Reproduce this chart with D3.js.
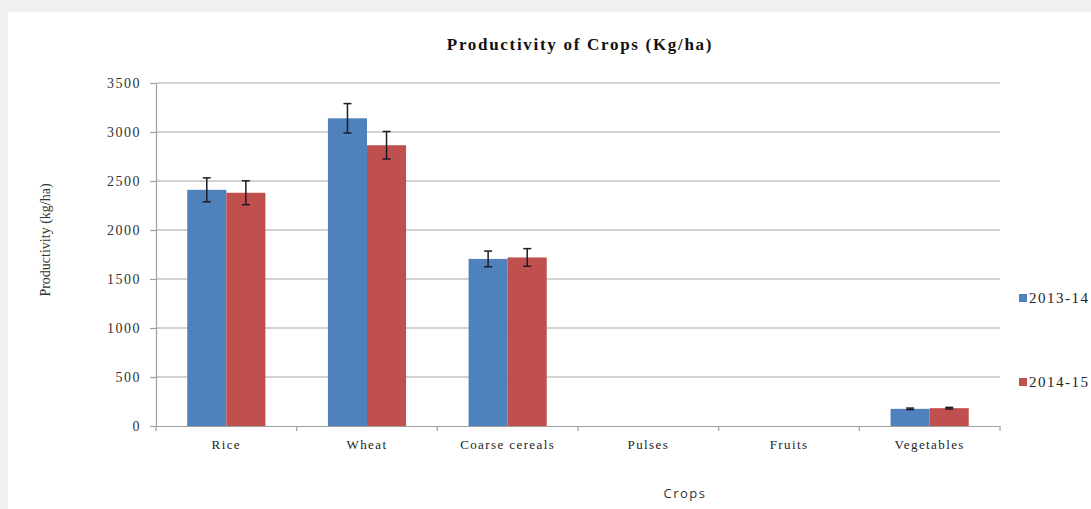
<!DOCTYPE html>
<html><head><meta charset="utf-8">
<script src="https://cdn.jsdelivr.net/npm/d3@7"></script>
<style>body{margin:0;background:#f0f1f3;}svg{display:block;}</style>
</head><body><svg id="c" width="1091" height="509"></svg>
<script>
const categories = ["Rice","Wheat","Coarse cereals","Pulses","Fruits","Vegetables"];
const series = ["2013-14","2014-15"];
const values2013 = [2410, 3140, 1705, 0, 0, 175];
const values2014 = [2380, 2865, 1720, 0, 0, 182];
const errors2013 = [122, 150, 80, 0, 0, 8];
const errors2014 = [122, 140, 90, 0, 0, 8];
const yTicks = [0,500,1000,1500,2000,2500,3000,3500];
const colors = ["#4f81bd","#c0504d"];

const svg = d3.select("#c");
svg.append("rect").attr("x",8).attr("y",12).attr("width",1083).attr("height",497).attr("fill","#fff");

const L=156,R=1000,T=83,B=426;
const x0 = d3.scaleBand().domain(categories).range([L,R]).padding(0);
const x1 = d3.scaleBand().domain(series).range([0,x0.bandwidth()]).paddingInner(0).paddingOuter(0.8);
const y = d3.scaleLinear().domain([0,3500]).range([B,T]);
const serif = "'Liberation Serif','Times New Roman',serif";

// gridlines
svg.append("g").selectAll("line").data(yTicks.filter(d=>d>0)).join("line")
  .attr("x1",L).attr("x2",R).attr("y1",d=>y(d)).attr("y2",d=>y(d))
  .attr("stroke","#a6a6a6").attr("stroke-width",1.2);

// y axis
const ya = svg.append("g").attr("transform",`translate(${L},0)`)
  .call(d3.axisLeft(y).tickValues(yTicks).tickFormat(d3.format("d")).tickSize(6).tickPadding(9).tickSizeOuter(0));
ya.select(".domain").attr("stroke","#a0a0a0").attr("stroke-width",1.2);
ya.selectAll(".tick line").attr("stroke","#a0a0a0").attr("stroke-width",1.2);
ya.selectAll("text").attr("font-family",serif).attr("font-size",14).attr("letter-spacing","1.5px").attr("fill","#333");

// x axis
const xa = svg.append("g").attr("transform",`translate(0,${B})`)
  .call(d3.axisBottom(x0).tickSize(0).tickPadding(14).tickSizeOuter(0));
xa.select(".domain").attr("stroke","#a0a0a0").attr("stroke-width",1.2);
xa.selectAll("text").attr("font-family",serif).attr("font-size",13).attr("letter-spacing","1.4px").attr("fill","#222");
const bounds = categories.map(c=>x0(c)).concat([R]);
svg.append("g").selectAll("line").data(bounds).join("line")
  .attr("x1",d=>d).attr("x2",d=>d).attr("y1",B).attr("y2",B+5)
  .attr("stroke","#a0a0a0").attr("stroke-width",1.2);

// bars
const data = categories.map((c,i)=>({c, vals:[values2013[i],values2014[i]], errs:[errors2013[i],errors2014[i]]}));
const g = svg.append("g").selectAll("g").data(data).join("g").attr("transform",d=>`translate(${x0(d.c)},0)`);
g.selectAll("rect").data(d=>series.map((s,j)=>({s,v:d.vals[j]}))).join("rect")
  .attr("x",d=>x1(d.s)).attr("width",x1.bandwidth())
  .attr("y",d=>y(d.v)).attr("height",d=>B-y(d.v))
  .attr("fill",(d,j)=>colors[j]);
// error bars
const eb = g.selectAll("g.err").data(d=>series.map((s,j)=>({s,v:d.vals[j],e:d.errs[j]})).filter(d=>d.v>0)).join("g").attr("class","err");
eb.append("line").attr("x1",d=>x1(d.s)+x1.bandwidth()/2).attr("x2",d=>x1(d.s)+x1.bandwidth()/2)
  .attr("y1",d=>y(d.v+d.e)).attr("y2",d=>y(d.v-d.e)).attr("stroke","#1c1c28").attr("stroke-width",1.5);
[1,-1].forEach(s=>{
  eb.append("line").attr("x1",d=>x1(d.s)+x1.bandwidth()/2-4).attr("x2",d=>x1(d.s)+x1.bandwidth()/2+4)
    .attr("y1",d=>y(d.v+s*d.e)).attr("y2",d=>y(d.v+s*d.e)).attr("stroke","#1c1c28").attr("stroke-width",1.5);
});

// title
svg.append("text").attr("x",580).attr("y",50).attr("text-anchor","middle")
  .attr("font-family",serif).attr("font-weight","bold").attr("font-size",17).attr("letter-spacing","1.7px")
  .attr("fill","#111").text("Productivity of Crops (Kg/ha)");
// y title
svg.append("text").attr("transform","translate(50,240) rotate(-90)").attr("text-anchor","middle")
  .attr("font-family",serif).attr("font-size",14).attr("fill","#333").text("Productivity (kg/ha)");
// x title
svg.append("text").attr("x",685).attr("y",498).attr("text-anchor","middle")
  .attr("font-family","'Open Sans','DejaVu Sans',sans-serif").attr("font-size",13).attr("letter-spacing","1.5px").attr("fill","#333").text("Crops");

// legend
const lg = svg.append("g").selectAll("g").data(series).join("g")
  .attr("transform",(d,i)=>`translate(1019,${[298,382][i]})`);
lg.append("rect").attr("x",0).attr("y",-4).attr("width",8).attr("height",8).attr("fill",(d,i)=>colors[i]);
lg.append("text").attr("x",10).attr("y",5).attr("font-family",serif).attr("font-size",15).attr("letter-spacing","1.5px").attr("fill","#222").text(d=>d);
</script></body></html>
